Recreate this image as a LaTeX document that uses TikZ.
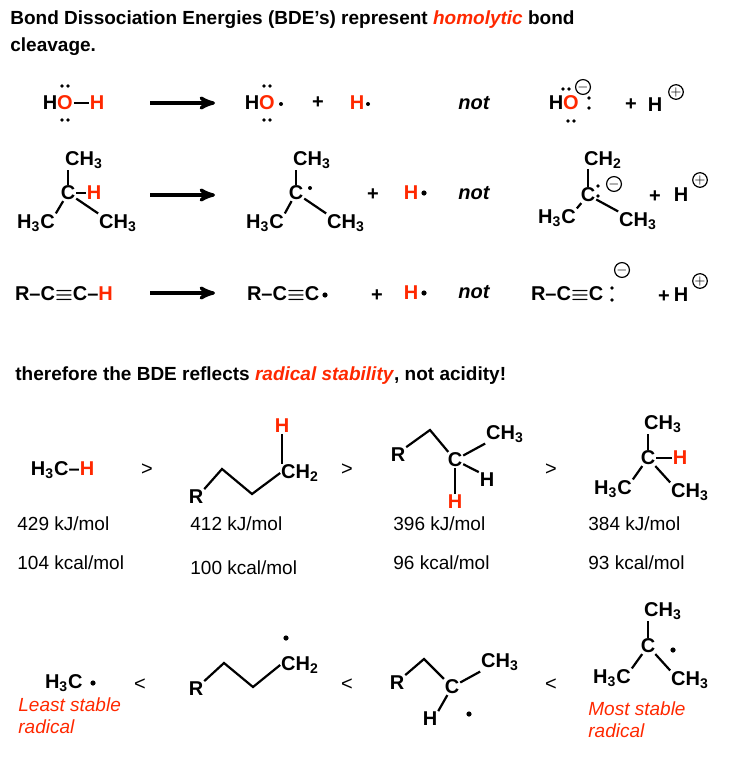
\documentclass[tikz,border=0pt]{standalone}
\usepackage{fontspec}
\setmainfont{Liberation Sans}
\usetikzlibrary{arrows,positioning}
\definecolor{chemred}{RGB}{255,40,0}
\newcommand{\ssub}[1]{\textsubscript{#1}}
\newcommand{\trip}{{\boldmath$\equiv$}}
\tikzset{
  atom/.style={inner sep=0.3pt,font=\bfseries\fontsize{10}{12}\selectfont},
  hot/.style={atom,text=chemred},
  bond/.style={line width=1.1pt},
  txt/.style={inner sep=0pt,anchor=base west,font=\fontsize{9.5}{11}\selectfont},
  note/.style={txt,text=chemred,font=\itshape\fontsize{9.5}{11}\selectfont},
  charge/.style={draw,circle,line width=0.6pt,inner sep=0pt,minimum size=7pt,font=\fontsize{6.5}{7}\selectfont},
  rxn/.style={-stealth',line width=1.6pt}
}
\begin{document}
\begin{tikzpicture}[x=0.5pt,y=-0.5pt]
\useasboundingbox (0,0) rectangle (736,760);
% heading
\node[txt,font=\bfseries\fontsize{9.5}{11}\selectfont] (t1) at (10,25) {Bond Dissociation Energies (BDE's) represent \textcolor{chemred}{\textit{homolytic}} bond};
\node[txt,font=\bfseries\fontsize{9.5}{11}\selectfont] (t2) at (10,51) {cleavage.};
% row 1: water
\node[atom] (wh1) at (50,103) {H};
\node[hot] (wo1) at (65,103) {O};
\node[hot] (wh2) at (97,103) {H};
\draw[bond] (wo1) -- (wh2);
\node[atom] (wh3) at (252,103) {H};
\node[hot] (wo2) at (267,103) {O};
\node[hot] (hr1) at (357,103) {H};
\node[atom] (pl1) at (318,103) {+};
\node[atom,font=\bfseries\itshape\fontsize{10}{12}\selectfont] (n1) at (474,103) {not};
\node[atom] (wh4) at (556,103) {H};
\node[hot] (wo3) at (571,103) {O};
\node[charge] (m1) at (583,87) {$-$};
\node[atom] (pl2) at (631,105) {+};
\node[atom] (hp1) at (655,105) {H};
\node[charge] (p1) at (676,92) {$+$};
\foreach \x/\y in {62/86,68/86,62/120,68/120,264/86,270/86,264/120,270/120,
  563/89,569/89,568/121,574/121,589/98,589/108}
  \fill (\x,\y) circle[radius=0.9pt];
\foreach \x/\y in {281/104,368/104} \fill (\x,\y) circle[radius=1pt];
\coordinate (a1s) at (150,103);
\coordinate (a1e) at (215,103);
\draw[rxn] (a1s) -- (a1e);
% row 2: isobutane
\node[atom] (ic1) at (68,193) {C};
\node[atom] (it1) at (84,160) {CH\ssub{3}};
\node[hot] (ih1) at (94,193) {H};
\node[atom] (il1) at (36,223) {H\ssub{3}C};
\node[atom] (ir1) at (118,223) {CH\ssub{3}};
\draw[bond] (ic1) -- (ic1|-it1.south);
\draw[bond] (ic1) -- (ih1);
\draw[bond] (ic1) -- (il1.north east);
\draw[bond] (ic1) -- (ir1.north west);
\coordinate (a2s) at (150,195);
\coordinate (a2e) at (215,195);
\draw[rxn] (a2s) -- (a2e);
\node[atom] (ic2) at (296,193) {C};
\node[atom] (it2) at (312,160) {CH\ssub{3}};
\node[atom] (il2) at (265,223) {H\ssub{3}C};
\node[atom] (ir2) at (346,223) {CH\ssub{3}};
\draw[bond] (ic2) -- (ic2|-it2.south);
\draw[bond] (ic2) -- (il2.north east);
\draw[bond] (ic2) -- (ir2.north west);
\fill (310,188) circle[radius=1pt];
\node[atom] (pl3) at (373,195) {+};
\node[hot] (hr2) at (411,193) {H};
\fill (424,193) circle[radius=1.3pt];
\node[atom,font=\bfseries\itshape\fontsize{10}{12}\selectfont] (n2) at (474,193) {not};
\node[atom] (ic3) at (588,195) {C};
\node[atom] (it3) at (603,160) {CH\ssub{2}};
\node[atom] (il3) at (557,218) {H\ssub{3}C};
\node[atom] (ir3) at (638,221) {CH\ssub{3}};
\draw[bond] (ic3) -- (ic3|-it3.south);
\draw[bond] (ic3) -- (il3.north east);
\draw[bond] (ic3) -- (ir3.north west);
\foreach \y in {186,196} \fill (598,\y) circle[radius=0.9pt];
\node[charge] (m2) at (614,184) {$-$};
\node[atom] (pl4) at (655,197) {+};
\node[atom] (hp2) at (681,195) {H};
\node[charge] (p2) at (700,180) {$+$};
% row 3: alkyne
\node[atom,anchor=west] (ya) at (14,294) {R--C\trip C--\textcolor{chemred}{H}};
\coordinate (a3s) at (150,293);
\coordinate (a3e) at (215,293);
\draw[rxn] (a3s) -- (a3e);
\node[atom,anchor=west] (yb) at (246,294) {R--C\trip C};
\fill (325,295) circle[radius=1.3pt];
\node[atom] (pl5) at (377,296) {+};
\node[hot] (hr3) at (411,293) {H};
\fill (424,293) circle[radius=1.3pt];
\node[atom,font=\bfseries\itshape\fontsize{10}{12}\selectfont] (n3) at (474,292) {not};
\node[atom,anchor=west] (yc) at (530,294) {R--C\trip C};
\foreach \y in {288,300} \fill (612,\y) circle[radius=0.9pt];
\node[charge] (m3) at (622,270) {$-$};
\node[atom] (pl6) at (664,297) {+};
\node[atom] (hp3) at (681,295) {H};
\node[charge] (p3) at (700,281) {$+$};
% conclusion
\node[txt,font=\bfseries\fontsize{9.5}{11}\selectfont] (t3) at (15,380) {therefore the BDE reflects \textcolor{chemred}{\textit{radical stability}}, not acidity!};
% row 4: C-H bonds
\node[atom,anchor=west] (me) at (30,470) {H\ssub{3}C--\textcolor{chemred}{H}};
\node[atom,font=\fontsize{10}{12}\selectfont] (g1) at (147,470) {>};
\node[atom] (pr) at (196,497) {R};
\coordinate (pa) at (222,469);
\coordinate (pb) at (252,494);
\node[atom] (pc) at (300,473) {CH\ssub{2}};
\node[hot] (ph) at (282,426) {H};
\draw[bond] (pr.north east) -- (pa) -- (pb) -- (pc.west);
\draw[bond] (ph) -- (ph|-pc.north);
\node[atom,font=\fontsize{10}{12}\selectfont] (g2) at (347,470) {>};
\node[atom] (sr) at (398,455) {R};
\coordinate (sa) at (430,430);
\node[atom] (sc) at (455,460) {C};
\node[atom] (sm) at (505,434) {CH\ssub{3}};
\node[atom] (sh) at (487,480) {H};
\node[hot] (sh2) at (455,502) {H};
\draw[bond] (sr.north east) -- (sa) -- (sc);
\draw[bond] (sc) -- (sm.south west);
\draw[bond] (sc) -- (sh.north west);
\draw[bond] (sc) -- (sh2);
\node[atom,font=\fontsize{10}{12}\selectfont] (g3) at (551,470) {>};
\node[atom] (tc) at (648,458) {C};
\node[atom] (tt) at (663,424) {CH\ssub{3}};
\node[hot] (th) at (680,458) {H};
\node[atom] (tl) at (613,489) {H\ssub{3}C};
\node[atom] (tr) at (690,492) {CH\ssub{3}};
\draw[bond] (tc) -- (tc|-tt.south);
\draw[bond] (tc) -- (th);
\draw[bond] (tc) -- (tl.north east);
\draw[bond] (tc) -- (tr.north west);
% energies
\foreach \x/\y/\v in {17/530/{429 kJ/mol},190/530/{412 kJ/mol},393/530/{396 kJ/mol},588/530/{384 kJ/mol},
  17/569/{104 kcal/mol},190/574/{100 kcal/mol},393/569/{96 kcal/mol},588/569/{93 kcal/mol}}
  \node[txt] (e\x\y) at (\x,\y) {\v};
% row 5: radicals
\node[atom,anchor=west] (rm) at (44,683) {H\ssub{3}C};
\fill (93,683) circle[radius=1.3pt];
\node[atom,font=\fontsize{10}{12}\selectfont] (l1) at (140,685) {<};
\node[atom] (qr) at (196,689) {R};
\coordinate (qa) at (224,663);
\coordinate (qb) at (253,687);
\node[atom] (qc) at (300,665) {CH\ssub{2}};
\draw[bond] (qr.north east) -- (qa) -- (qb) -- (qc.west);
\fill (286,638) circle[radius=1.3pt];
\node[atom,font=\fontsize{10}{12}\selectfont] (l2) at (347,685) {<};
\node[atom] (ur) at (397,683) {R};
\coordinate (ua) at (424,659);
\node[atom] (uc) at (452,687) {C};
\node[atom] (um) at (500,662) {CH\ssub{3}};
\node[atom] (uh) at (430,719) {H};
\draw[bond] (ur.north east) -- (ua) -- (uc);
\draw[bond] (uc) -- (um.south west);
\draw[bond] (uc) -- (uh.north east);
\fill (469,714) circle[radius=1.3pt];
\node[atom,font=\fontsize{10}{12}\selectfont] (l3) at (551,685) {<};
\node[atom] (vc) at (648,646) {C};
\node[atom] (vt) at (663,611) {CH\ssub{3}};
\node[atom] (vl) at (612,678) {H\ssub{3}C};
\node[atom] (vr) at (690,680) {CH\ssub{3}};
\draw[bond] (vc) -- (vc|-vt.south);
\draw[bond] (vc) -- (vl.north east);
\draw[bond] (vc) -- (vr.north west);
\fill (673,650) circle[radius=1.3pt];
% labels
\node[note] (lo1) at (18,711) {Least stable};
\node[note] (lo2) at (18,733) {radical};
\node[note] (hi1) at (588,715) {Most stable};
\node[note] (hi2) at (588,737) {radical};
\end{tikzpicture}
\end{document}
